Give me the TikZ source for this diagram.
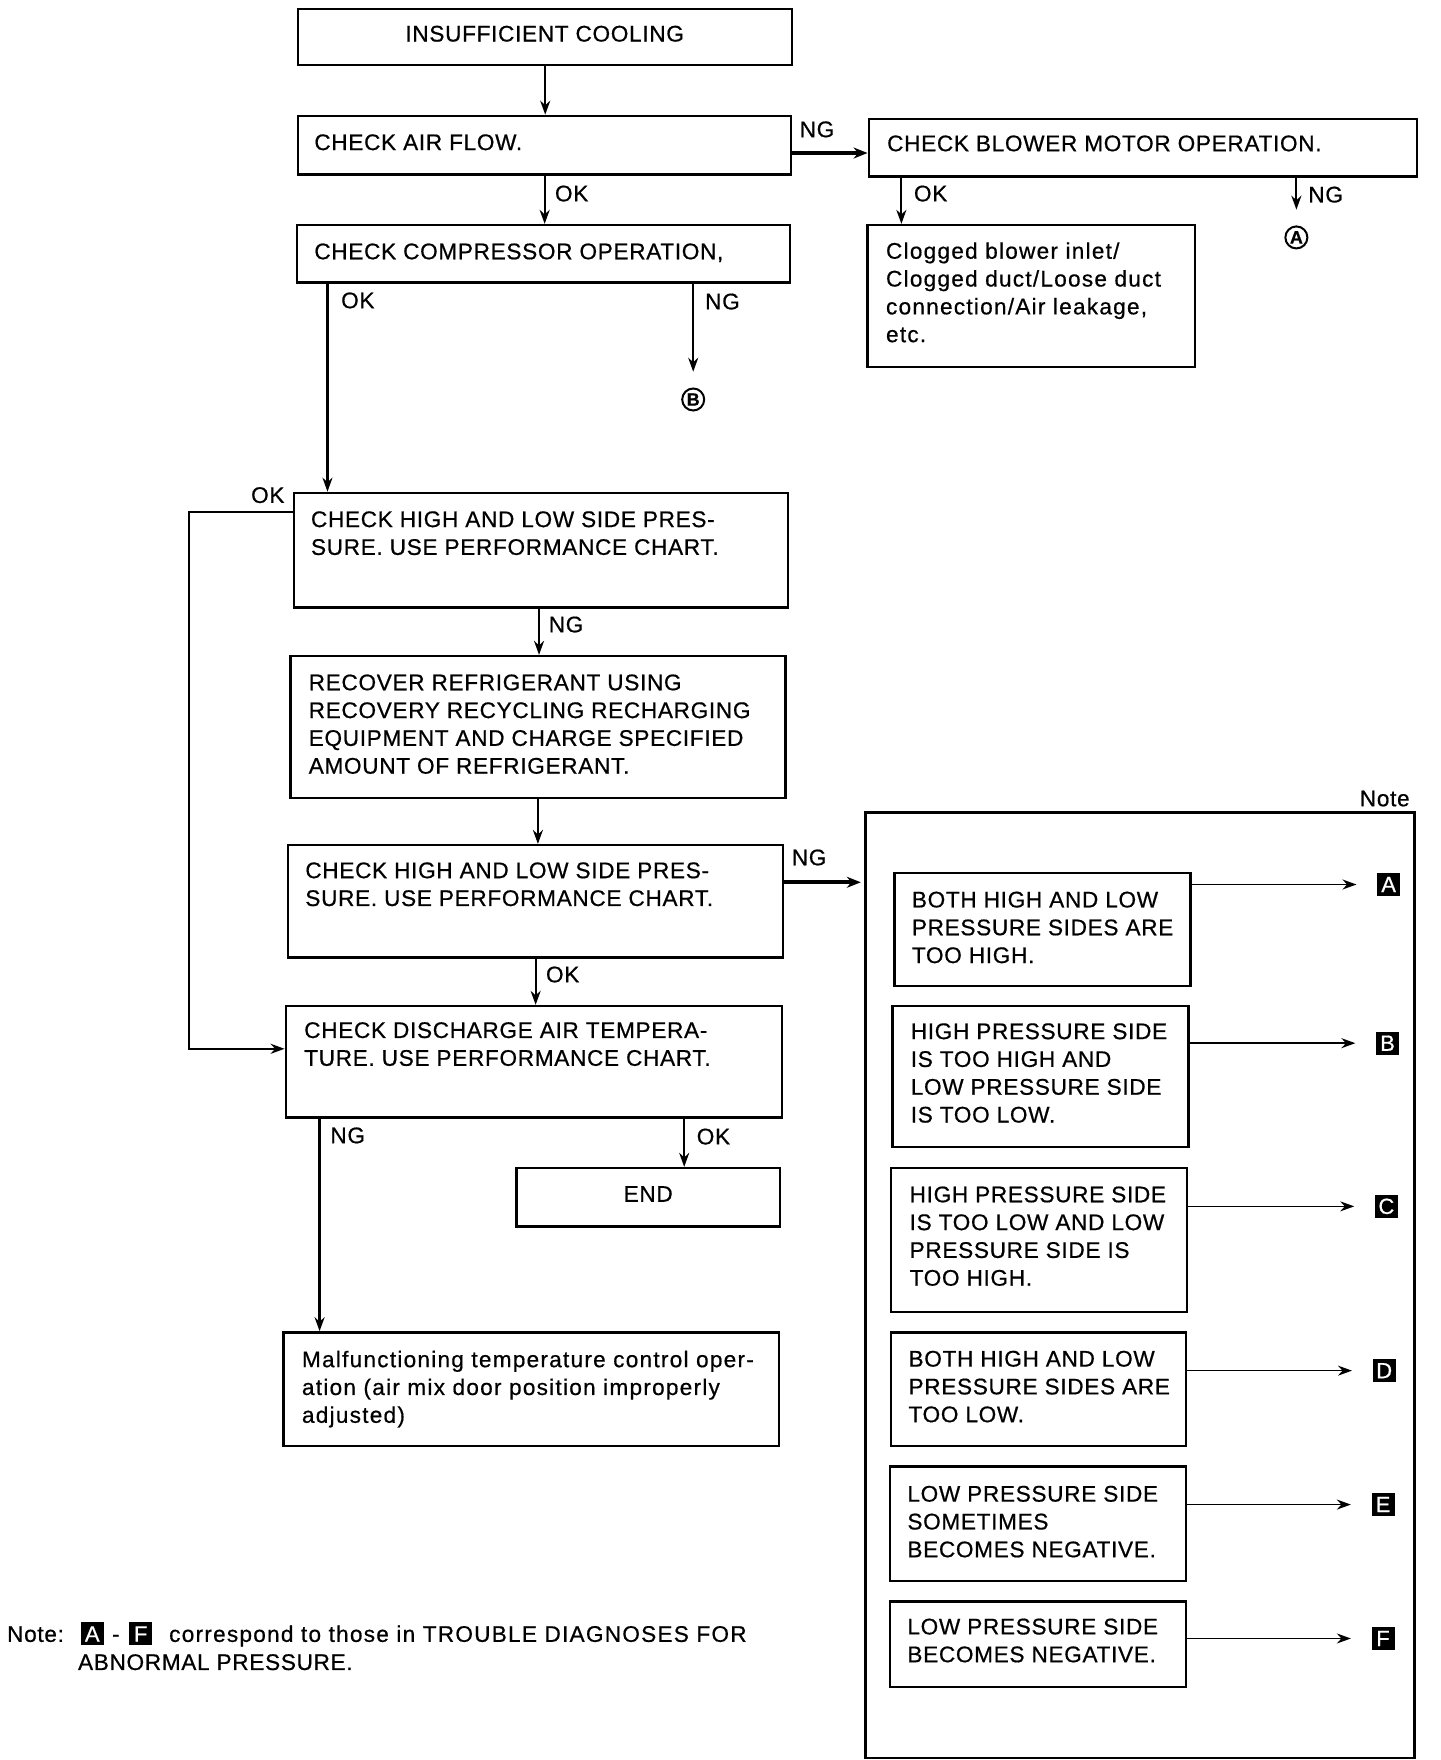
\documentclass[tikz,border=0pt]{standalone}
\usepackage{fontspec}
\setmainfont{Liberation Sans}[LetterSpace=3.0,FakeBold=0.6]
\usetikzlibrary{arrows.meta,fit,calc}
\newcommand{\mf}{\fontsize{11.3}{13.9}\selectfont}
\newcommand{\mfl}{\fontsize{11.3}{13.9}\selectfont\addfontfeature{LetterSpace=5.5}}
\begin{document}
\begin{tikzpicture}[x=0.5625pt,y=-0.5625pt,
 box/.style={draw, line width=1.2pt, inner sep=0pt},
 txt/.style={anchor=north west, inner sep=0pt, align=left, font=\mf},
 ltxt/.style={txt, font=\mfl},
 lbl/.style={inner sep=0pt, font=\mf},
 arr/.style={line width=1.1pt, -{Stealth[length=7pt,width=5pt]}},
 harr/.style={line width=1.8pt, -{Stealth[length=7pt,width=5.5pt]}},
 narr/.style={line width=0.8pt, -{Stealth[length=7pt,width=5pt]}},
 sq/.style={fill=black, text=white, inner sep=0pt, minimum width=11.5pt, minimum height=11.5pt, font=\fontsize{11}{11}\selectfont},
 circ/.style={circle, draw, line width=1pt, minimum size=11pt, inner sep=0pt, font=\bfseries\fontsize{9}{9}\selectfont}]
\path[use as bounding box] (0,0) rectangle (1280,1564);

% helper coordinates
\coordinate (x291) at (291,0);
\coordinate (x801) at (801,0);
\coordinate (x479) at (479,0);
\coordinate (x478) at (478,0);
\coordinate (x476) at (476,0);
\coordinate (x284) at (284,0);
\coordinate (x608) at (608,0);
\coordinate (xL) at (168,0);
\coordinate (y136) at (0,136);
\coordinate (y455) at (0,455);
\coordinate (y932) at (0,932);
\coordinate (y784) at (0,784);

% main column
\node[box, fit={(265,8) (704,58)}] (b1) {};
\node[lbl] (t1) at (484,30) {INSUFFICIENT COOLING};
\node[box, fit={(265,103) (703,155)}] (b2) {};
\node[txt] (t2) at (279,119) {CHECK AIR FLOW.};
\node[box, fit={(772,106) (1259,157)}] (b3) {};
\node[txt] (t3) at (788,120) {CHECK BLOWER MOTOR OPERATION.};
\node[box, fit={(264,200) (702,251)}] (b4) {};
\node[txt] (t4) at (279,216) {CHECK COMPRESSOR OPERATION,};
\node[box, fit={(771,200) (1062,326)}] (b5) {};
\node[ltxt] (t5) at (787,215) {Clogged blower inlet/\\Clogged duct/Loose duct\\connection/Air leakage,\\etc.};
\node[box, fit={(261,438) (700,540)}] (b6) {};
\node[txt] (t6) at (276,454) {CHECK HIGH AND LOW SIDE PRES-\\SURE. USE PERFORMANCE CHART.};
\node[box, fit={(258,583) (698,709)}] (b7) {};
\node[txt] (t7) at (274,599) {RECOVER REFRIGERANT USING\\RECOVERY RECYCLING RECHARGING\\EQUIPMENT AND CHARGE SPECIFIED\\AMOUNT OF REFRIGERANT.};
\node[box, fit={(256,751) (696,851)}] (b8) {};
\node[txt] (t8) at (271,766) {CHECK HIGH AND LOW SIDE PRES-\\SURE. USE PERFORMANCE CHART.};
\node[box, fit={(254,894) (695,993)}] (b9) {};
\node[txt] (t9) at (270,908) {CHECK DISCHARGE AIR TEMPERA-\\TURE. USE PERFORMANCE CHART.};
\node[box, fit={(459,1038) (693,1090)}] (b10) {};
\node[lbl] (t10) at (576,1061) {END};
\node[box, fit={(252,1184) (692,1285)}] (b11) {};
\node[ltxt] (t11) at (268,1200) {Malfunctioning temperature control oper-\\ation (air mix door position improperly\\adjusted)};

% circled references
\node[circ] (cA) at (1152,211) {A};
\node[circ] (cB) at (616,355) {B};

% note box
\node[box, fit={(769,722) (1257,1562)}] (nb) {};
\node[lbl, anchor=south east] (ntitle) at (1253,717) {Note};
\node[box, fit={(795,776) (1058,876)}] (n1) {};
\node[txt] (tn1) at (810,792) {BOTH HIGH AND LOW\\PRESSURE SIDES ARE\\TOO HIGH.};
\node[box, fit={(793,894) (1056,1019)}] (n2) {};
\node[txt] (tn2) at (809,909) {HIGH PRESSURE SIDE\\IS TOO HIGH AND\\LOW PRESSURE SIDE\\IS TOO LOW.};
\node[box, fit={(792,1038) (1055,1166)}] (n3) {};
\node[txt] (tn3) at (808,1054) {HIGH PRESSURE SIDE\\IS TOO LOW AND LOW\\PRESSURE SIDE IS\\TOO HIGH.};
\node[box, fit={(792,1184) (1054,1285)}] (n4) {};
\node[txt] (tn4) at (807,1200) {BOTH HIGH AND LOW\\PRESSURE SIDES ARE\\TOO LOW.};
\node[box, fit={(791,1303) (1054,1405)}] (n5) {};
\node[txt] (tn5) at (806,1320) {LOW PRESSURE SIDE\\SOMETIMES\\BECOMES NEGATIVE.};
\node[box, fit={(791,1423) (1054,1499)}] (n6) {};
\node[txt] (tn6) at (806,1438) {LOW PRESSURE SIDE\\BECOMES NEGATIVE.};

\node[sq] (la) at (1234,786) {A};
\node[sq] (lb) at (1233,927) {B};
\node[sq] (lc) at (1232,1072) {C};
\node[sq] (ld) at (1230,1218) {D};
\node[sq] (le) at (1229,1337) {E};
\node[sq] (lf) at (1229,1456) {F};

\draw[narr] (n1.east |- la) -- ($(la.west)+(-18,0)$);
\draw[narr] (n2.east |- lb) -- ($(lb.west)+(-18,0)$);
\draw[narr] (n3.east |- lc) -- ($(lc.west)+(-18,0)$);
\draw[narr] (n4.east |- ld) -- ($(ld.west)+(-18,0)$);
\draw[narr] (n5.east |- le) -- ($(le.west)+(-18,0)$);
\draw[narr] (n6.east |- lf) -- ($(lf.west)+(-18,0)$);

% connectors
\draw[arr] (b1.south) -- (b1.south |- b2.north);
\draw[harr] (b2.east |- y136) -- (b3.west |- y136);
\draw[arr] (b2.south) -- (b2.south |- b4.north);
\draw[arr] (b3.south -| x801) -- (b5.north -| x801);
\draw[arr] (b3.south -| cA) -- ($(cA.north)+(0,-14)$);
\draw[arr] (b4.south -| cB) -- ($(cB.north)+(0,-14)$);
\draw[arr] (b4.south -| x291) -- (b6.north -| x291);
\draw[arr] (b6.west |- y455) -| (xL |- y932) -- (b9.west |- y932);
\draw[arr] (b6.south -| x479) -- (b7.north -| x479);
\draw[arr] (b7.south -| x478) -- (b8.north -| x478);
\draw[harr] (b8.east |- y784) -- ($(nb.west |- y784)+(-3,0)$);
\draw[arr] (b8.south -| x476) -- (b9.north -| x476);
\draw[arr] (b9.south -| x284) -- (b11.north -| x284);
\draw[arr] (b9.south -| x608) -- (b10.north -| x608);

% connector labels
\node[lbl] (lNG1) at (726,115) {NG};
\node[lbl] (lOK1) at (508,172) {OK};
\node[lbl] (lOK2) at (827,172) {OK};
\node[lbl] (lNG2) at (1178,173) {NG};
\node[lbl] (lNG3) at (642,268) {NG};
\node[lbl] (lOK3) at (318,267) {OK};
\node[lbl] (lOK4) at (238,440) {OK};
\node[lbl] (lNG4) at (503,555) {NG};
\node[lbl] (lNG5) at (719,762) {NG};
\node[lbl] (lOK5) at (500,866) {OK};
\node[lbl] (lNG6) at (309,1009) {NG};
\node[lbl] (lOK6) at (634,1010) {OK};

% footnote
\node[lbl, anchor=base west] (nt1) at (6,1459) {Note:};
\node[sq] (sa) at (82,1452) {A};
\node[lbl, anchor=base] (dash) at (103,1459) {-};
\node[sq] (sf) at (125,1452) {F};
\node[lbl, anchor=base west, font=\mfl] (nt2) at (150,1459) {correspond to those in TROUBLE DIAGNOSES FOR};
\node[lbl, anchor=base west] (nt3) at (69,1484) {ABNORMAL PRESSURE.};
\end{tikzpicture}
\end{document}
